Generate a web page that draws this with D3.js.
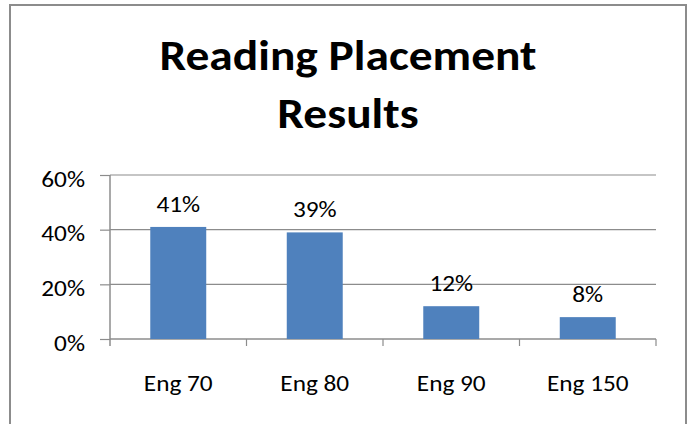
<!DOCTYPE html>
<html>
<head>
<meta charset="utf-8">
<script src="https://cdn.jsdelivr.net/npm/d3@7"></script>
<style>
  body { margin: 0; background: #fff; }
  svg { display: block; font-family: Carlito, Calibri, Lato, "Open Sans", sans-serif; }
</style>
</head>
<body>
<div id="chart"></div>
<script>
const categories = ['Eng 70', 'Eng 80', 'Eng 90', 'Eng 150'];
const values = [0.41, 0.39, 0.12, 0.08];
const yTicks = [0, 0.2, 0.4, 0.6];
const titleLines = ['Reading Placement', 'Results'];

// the original picture is a little wider than tall, so text is stretched sideways
const stretch = 1.15;
const pct = d3.format('.0%');

const svg = d3.select('#chart').append('svg').attr('width', 691).attr('height', 424);

// outer chart frame
svg.append('rect')
    .attr('x', 10)
    .attr('y', 5)
    .attr('width', 676)
    .attr('height', 430)
    .attr('fill', 'none')
    .attr('stroke', '#8c8c8c')
    .attr('stroke-width', 2);

svg.append('g')
    .selectAll('text')
    .data(titleLines)
    .join('text')
    .attr('transform', (d, i) => `translate(348,${70 + i * 58}) scale(1.13,1)`)
    .attr('text-anchor', 'middle')
    .attr('font-size', 42)
    .attr('font-weight', 'bold')
    .text(d => d);

const margin = {top: 175, right: 35, bottom: 85, left: 110},
      width = 691 - margin.left - margin.right,
      height = 424 - margin.top - margin.bottom;

const g = svg.append('g')
    .attr('transform', `translate(${margin.left},${margin.top})`);

const x = d3.scaleBand().domain(categories).range([0, width]).paddingInner(0.59).paddingOuter(0.295);
const y = d3.scaleLinear().domain([0, 0.6]).range([height, 0]);

// gridlines
g.append('g')
    .selectAll('line')
    .data(yTicks.filter(d => d > 0))
    .join('line')
    .attr('x1', 0)
    .attr('x2', width)
    .attr('y1', d => y(d))
    .attr('y2', d => y(d))
    .attr('stroke', '#8c8c8c')
    .attr('stroke-width', 1.2);

const yAxis = g.append('g')
    .call(d3.axisLeft(y).tickValues(yTicks).tickFormat(pct).tickSize(10).tickPadding(15))
    .attr('font-family', null)
    .attr('font-size', null);
yAxis.select('.domain').remove();
yAxis.selectAll('line').attr('stroke', '#8c8c8c').attr('stroke-width', 1.2);
yAxis.selectAll('text')
    .attr('font-size', 22)
    .attr('fill', '#000')
    .attr('x', -25 / stretch)
    .attr('dy', '0.5em')
    .attr('transform', `scale(${stretch},1)`);

// y axis line, extended down to the tick length
g.append('line')
    .attr('x1', 0).attr('x2', 0)
    .attr('y1', 0).attr('y2', height + 7)
    .attr('stroke', '#8c8c8c')
    .attr('stroke-width', 1.5);

// x axis line and boundary ticks
g.append('line')
    .attr('x1', 0).attr('x2', width)
    .attr('y1', height).attr('y2', height)
    .attr('stroke', '#8c8c8c')
    .attr('stroke-width', 1.5);

const step = x.step();
g.append('g')
    .selectAll('line')
    .data(d3.range(1, categories.length + 1))
    .join('line')
    .attr('x1', d => d * step)
    .attr('x2', d => d * step)
    .attr('y1', height)
    .attr('y2', height + 7)
    .attr('stroke', '#8c8c8c')
    .attr('stroke-width', 1.2);

g.append('g')
    .selectAll('rect')
    .data(values)
    .join('rect')
    .attr('x', (d, i) => x(categories[i]))
    .attr('y', d => y(d))
    .attr('width', x.bandwidth())
    .attr('height', d => height - y(d))
    .attr('fill', '#4f81bd');

g.append('g')
    .selectAll('text')
    .data(values)
    .join('text')
    .attr('transform', (d, i) => `translate(${x(categories[i]) + x.bandwidth() / 2},${y(d) - 15}) scale(${stretch},1)`)
    .attr('text-anchor', 'middle')
    .attr('font-size', 22)
    .text(d => pct(d));

g.append('g')
    .selectAll('text')
    .data(categories)
    .join('text')
    .attr('transform', d => `translate(${x(d) + x.bandwidth() / 2},${height + 52}) scale(${stretch},1)`)
    .attr('text-anchor', 'middle')
    .attr('font-size', 22)
    .text(d => d);
</script>
</body>
</html>
